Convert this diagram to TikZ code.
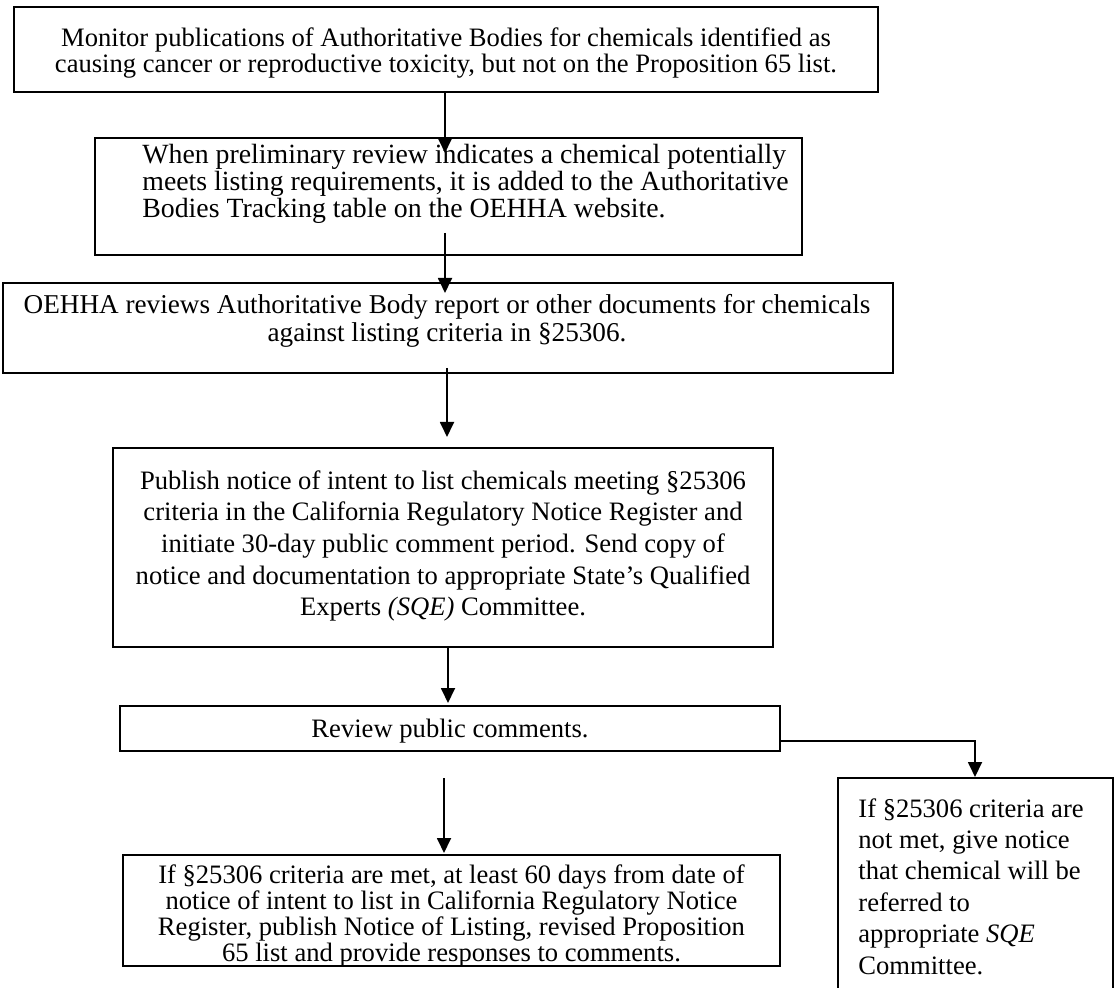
\documentclass[tikz,border=0pt]{standalone}
\usepackage{fontspec}
\setmainfont{Liberation Serif}
\usetikzlibrary{arrows.meta}
\begin{document}
\begin{tikzpicture}[x=0.5pt,y=-0.5pt,
  box/.style={draw, line width=1pt, inner sep=0pt},
  txt/.style 2 args={inner sep=0pt, font=\fontsize{#1}{#2}\selectfont},
  conn/.style={line width=0.9pt, -{Triangle[length=7.5pt,width=7pt]}}]
\clip (0,0) rectangle (1118,988);
\useasboundingbox (0,0) rectangle (1118,988);
% boxes
\node[box, minimum width=432pt, minimum height=42.5pt] (b1) at (446,49.5) {};
\node[box, minimum width=353.5pt, minimum height=58.5pt] (b2) at (448.5,196.5) {};
\node[box, minimum width=445pt, minimum height=45pt] (b3) at (448,328) {};
\node[box, minimum width=330pt, minimum height=99.5pt] (b4) at (443,547.5) {};
\node[box, minimum width=330pt, minimum height=22.5pt] (b5) at (450,728.5) {};
\node[box, minimum width=137.5pt, minimum height=112pt] (b6) at (975.5,890) {};
\node[box, minimum width=328.5pt, minimum height=55.5pt] (b7) at (451.5,910.5) {};
% texts
\node[txt={13.3pt}{13pt}, align=center] (t1) at (446,53) {Monitor publications of Authoritative Bodies for chemicals identified as\\causing cancer or reproductive toxicity, but not on the Proposition 65 list.};
\node[txt={13.9pt}{12.5pt}, align=left, anchor=west] (t2) at (142,184) {When preliminary review indicates a chemical potentially\\meets listing requirements, it is added to the Authoritative\\Bodies Tracking table on the OEHHA website.};
\node[txt={13.6pt}{14pt}, align=center] (t3) at (447,321) {OEHHA reviews Authoritative Body report or other documents for chemicals\\against listing criteria in §25306.};
\node[txt={13.3pt}{15.8pt}, align=center] (t4) at (443,546) {Publish notice of intent to list chemicals meeting §25306\\criteria in the California Regulatory Notice Register and\\initiate 30-day public comment period. Send copy of\\notice and documentation to appropriate State’s Qualified\\Experts \textit{(SQE)} Committee.};
\node[txt={13.3pt}{13pt}] (t5) at (450,731) {Review public comments.};
\node[txt={13.3pt}{15.7pt}, align=left, anchor=west] (t6) at (858,886.5) {If §25306 criteria are\\not met, give notice\\that chemical will be\\referred to\\appropriate \textit{SQE}\\Committee.};
\node[txt={13.3pt}{12.9pt}, align=center] (t7) at (451.5,916) {If §25306 criteria are met, at least 60 days from date of\\notice of intent to list in California Regulatory Notice\\Register, publish Notice of Listing, revised Proposition\\65 list and provide responses to comments.};
% connector end points
\coordinate (e1) at (445,153);
\coordinate (s2) at (445,233);
\coordinate (e2) at (445,293);
\coordinate (s3) at (447,368);
\coordinate (e3) at (447,437);
\coordinate (e4) at (448,703);
\coordinate (s5) at (444,778);
\coordinate (e5) at (444,853);
\coordinate (m6) at (975,741);
\coordinate (e6) at (975,777);
% connectors
\draw[conn] (b1.south -| e1) -- (e1);
\draw[conn] (s2) -- (e2);
\draw[conn] (s3) -- (e3);
\draw[conn] (b4.south -| e4) -- (e4);
\draw[conn] (s5) -- (e5);
\draw[conn] (b5.east |- m6) -- (m6) -- (e6);
\end{tikzpicture}
\end{document}
